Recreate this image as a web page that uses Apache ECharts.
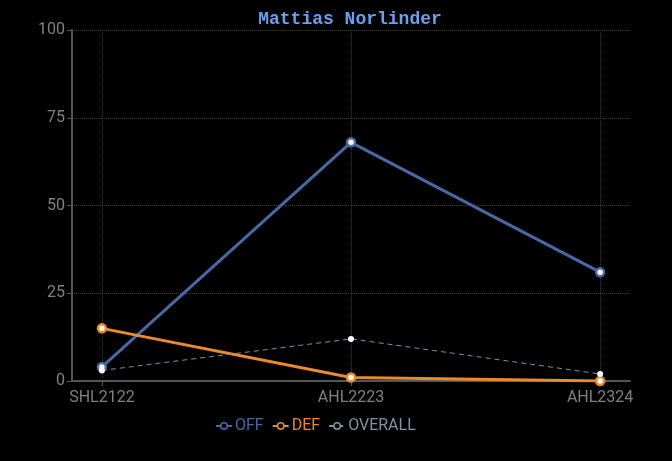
<!DOCTYPE html>
<html>
<head>
<meta charset="utf-8">
<script src="https://cdn.jsdelivr.net/npm/echarts@6/dist/echarts.min.js"></script>
<style>html,body{margin:0;padding:0;background:#000;}#c{width:672px;height:461px;}</style>
</head>
<body>
<div id="c"></div>
<script>
const categories = ['SHL2122', 'AHL2223', 'AHL2324'];
const offValues = [4, 68, 31];
const defValues = [15, 1, 0];
const overallValues = [3, 12, 2];
const yTicks = [0, 25, 50, 75, 100];

const toPts = arr => arr.map((v, i) => [i, v]);
const catIdx = categories.map((c, i) => i);
const font = 'Roboto';
const cOff = '#4a68a6', cDef = '#ea8a2e', cAll = '#7d95a6';

const chart = echarts.init(document.getElementById('c'), null, {renderer: 'canvas'});
chart.setOption({
  backgroundColor: '#000',
  animation: false,
  title: {
    text: 'Mattias Norlinder', left: 345, top: 5, textAlign: 'center',
    textStyle: {color: '#6b9ff0', fontFamily: 'Liberation Mono', fontWeight: 'bold', fontSize: 18}
  },
  grid: {left: 72, right: 42, top: 30, bottom: 80, containLabel: false},
  legend: {
    bottom: 22, left: 210, itemWidth: 16, itemHeight: 8, itemGap: 8,
    textStyle: {fontFamily: font, fontSize: 16, padding: [0, 0, 0, -2]},
    data: [
      {name: 'OFF', textStyle: {color: cOff}, itemStyle: {color: '#000', borderColor: cOff, borderWidth: 1.5}},
      {name: 'DEF', textStyle: {color: cDef}, itemStyle: {color: '#000', borderColor: cDef, borderWidth: 1.5}},
      {name: 'OVERALL', textStyle: {color: cAll}, itemStyle: {color: '#000', borderColor: cAll, borderWidth: 1.5}}
    ]
  },
  xAxis: {
    type: 'value', min: -0.12, max: 2.12,
    axisLine: {show: true, onZero: false, lineStyle: {color: '#555', width: 2}},
    axisTick: {show: true, length: 5, customValues: catIdx, lineStyle: {color: '#555'}},
    axisLabel: {
      color: '#808080', fontFamily: font, fontSize: 16, margin: 9,
      customValues: catIdx,
      formatter: v => categories[Math.round(v)] || ''
    },
    splitLine: {show: true, customValues: catIdx.concat([2.12]), lineStyle: {color: '#3a3a3a', type: 'dotted', width: 1}}
  },
  yAxis: {
    type: 'value', min: yTicks[0], max: yTicks[yTicks.length - 1], interval: 25,
    axisLine: {show: true, onZero: false, lineStyle: {color: '#555', width: 2}},
    axisTick: {show: true, length: 5, lineStyle: {color: '#555'}},
    axisLabel: {color: '#808080', fontFamily: font, fontSize: 16, margin: 7},
    splitLine: {show: true, lineStyle: {color: '#3a3a3a', type: 'dotted', width: 1}}
  },
  series: [
    {
      name: 'OFF', type: 'line', data: toPts(offValues), symbol: 'circle', symbolSize: 8,
      lineStyle: {color: cOff, width: 3}, itemStyle: {color: '#fff', borderColor: cOff, borderWidth: 2.5},
      color: cOff
    },
    {
      name: 'DEF', type: 'line', data: toPts(defValues), symbol: 'circle', symbolSize: 8,
      lineStyle: {color: cDef, width: 3}, itemStyle: {color: '#fff', borderColor: cDef, borderWidth: 2.5},
      color: cDef
    },
    {
      name: 'OVERALL', type: 'line', data: toPts(overallValues), symbol: 'circle', symbolSize: 6,
      lineStyle: {color: cAll, width: 1, type: [5, 4]}, itemStyle: {color: '#fff', borderColor: '#fff', borderWidth: 0},
      color: cAll
    }
  ]
});
</script>
</body>
</html>
